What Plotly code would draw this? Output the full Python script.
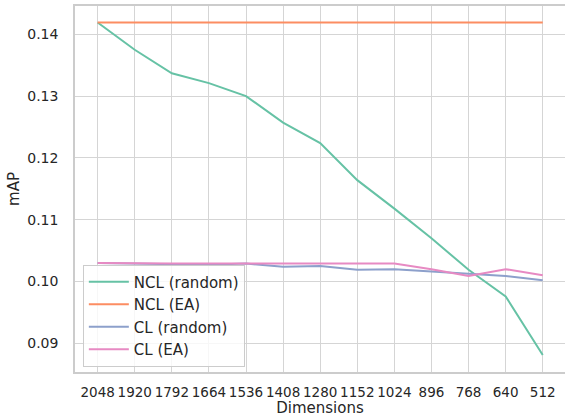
import plotly.graph_objects as go

dimensions = ["2048", "1920", "1792", "1664", "1536", "1408", "1280", "1152", "1024", "896", "768", "640", "512"]
ncl_random = [0.1419, 0.1375, 0.1337, 0.1321, 0.1300, 0.1257, 0.1224, 0.1164, 0.1118, 0.1070, 0.1019, 0.0976, 0.0881]
ncl_ea = [0.1419] * 13
cl_random = [0.1030, 0.1029, 0.1028, 0.1027, 0.1029, 0.1024, 0.1025, 0.1019, 0.1020, 0.1016, 0.1013, 0.1009, 0.1002]
cl_ea = [0.1030, 0.1029, 0.1029, 0.1029, 0.1029, 0.1029, 0.1029, 0.1029, 0.1029, 0.1020, 0.1009, 0.1020, 0.1010]

series = [
    ("NCL (random)", ncl_random, "#66c2a5"),
    ("NCL (EA)", ncl_ea, "#fc8d62"),
    ("CL (random)", cl_random, "#8da0cb"),
    ("CL (EA)", cl_ea, "#e78ac3"),
]

fig = go.Figure()
for name, vals, color in series:
    fig.add_trace(go.Scatter(x=list(range(len(dimensions))), y=vals, mode="lines", name=name,
                             line=dict(color=color, width=2)))

font = "DejaVu Sans"
fig.update_layout(
    width=565, height=417,
    margin=dict(l=75, r=0, t=6, b=45, autoexpand=False),
    plot_bgcolor="white", paper_bgcolor="white",
    font=dict(family=font, color="#262626"),
    legend=dict(x=0.016, y=0.015, xanchor="left", yanchor="bottom",
                bgcolor="rgba(255,255,255,0.8)", bordercolor="#cccccc", borderwidth=1,
                font=dict(size=15, family=font, color="#262626"), tracegroupgap=0,
                itemwidth=40),
    showlegend=True,
)
fig.update_xaxes(
    tickmode="array", tickvals=list(range(len(dimensions))), ticktext=dimensions,
    range=[-0.61, 12.6], showgrid=True, gridcolor="#d5d5d5", gridwidth=1,
    showline=True, linecolor="#cccccc", linewidth=1.5, mirror=True,
    tickfont=dict(size=13.5, family=font, color="#262626"), ticks="", ticklabelstandoff=7,
    tickangle=0,
    title=dict(text="Dimensions", font=dict(size=15, family=font, color="#262626"), standoff=9),
    zeroline=False, automargin=False,
)
fig.update_yaxes(
    range=[0.08536, 0.14458], tickvals=[0.09, 0.10, 0.11, 0.12, 0.13, 0.14], tickformat=".2f",
    showgrid=True, gridcolor="#d5d5d5", gridwidth=1,
    showline=True, linecolor="#cccccc", linewidth=1.5, mirror=True,
    tickfont=dict(size=14, family=font, color="#262626"), ticks="", ticklabelstandoff=12,
    title=dict(text="mAP", font=dict(size=15, family=font, color="#262626"), standoff=4),
    zeroline=False, automargin=False,
)
fig.write_html("out.html", config={"displayModeBar": False},
               post_script="document.body.style.margin='0';document.body.style.overflow='hidden';")
